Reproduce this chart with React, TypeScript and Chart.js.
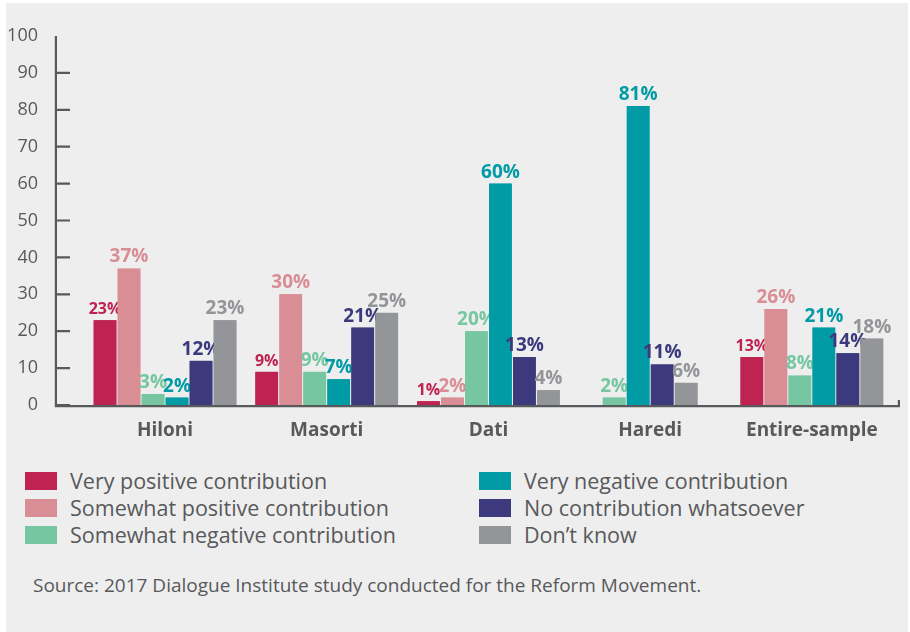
import React, { useEffect, useRef } from 'react';
import { Chart, registerables } from 'chart.js';

Chart.register(...registerables);

const categories = ['Hiloni', 'Masorti', 'Dati', 'Haredi', 'Entire-sample'];
const seriesNames = [
  'Very positive contribution',
  'Somewhat positive contribution',
  'Somewhat negative contribution',
  'Very negative contribution',
  'No contribution whatsoever',
  'Don’t know',
];
const veryPositive = [23, 9, 1, null, 13];
const somewhatPositive = [37, 30, 2, null, 26];
const somewhatNegative = [3, 9, 20, 2, 8];
const veryNegative = [2, 7, 60, 81, 21];
const noContribution = [12, 21, 13, 11, 14];
const dontKnow = [23, 25, 4, 6, 18];
const yTicks = [0, 10, 20, 30, 40, 50, 60, 70, 80, 90, 100];
const seriesColors = ['#BE2352', '#D98E96', '#76C7A1', '#009BA4', '#3C3A7C', '#939598'];
const sourceText = 'Source: 2017 Dialogue Institute study conducted for the Reform Movement.';

const seriesValues = [veryPositive, somewhatPositive, somewhatNegative, veryNegative, noContribution, dontKnow];

const TEXT = '#58595B';
const FONT = "'Open Sans', sans-serif";
const PANEL = '#EEEEEE';

const overlayPlugin = {
  id: 'overlay',
  afterDatasetsDraw(chart: any) {
    const { ctx, chartArea, scales } = chart;
    const y = scales.y;
    ctx.save();
    chart.data.datasets.forEach((ds: any, i: number) => {
      const meta = chart.getDatasetMeta(i);
      meta.data.forEach((el: any, j: number) => {
        if (ds.data[j].y == null) return;
        el.draw(ctx);
      });
      ctx.font = `bold ${i === 0 ? 16 : 19}px ${FONT}`;
      ctx.fillStyle = ds.backgroundColor;
      ctx.textAlign = 'center';
      ctx.textBaseline = 'alphabetic';
      meta.data.forEach((el: any, j: number) => {
        const v = ds.data[j].y;
        if (v == null) return;
        ctx.fillText(`${v}%`, el.x, el.y - 6);
      });
    });
    const left = chartArea.left;
    const bottom = chartArea.bottom;
    const right = chartArea.right;
    ctx.strokeStyle = TEXT;
    ctx.lineWidth = 2.2;
    ctx.beginPath();
    ctx.moveTo(left - 1.1, y.getPixelForValue(yTicks[yTicks.length - 1]));
    ctx.lineTo(left - 1.1, bottom + 2.2);
    yTicks.slice(0, -1).forEach((t) => {
      const py = y.getPixelForValue(t);
      ctx.moveTo(left, py);
      ctx.lineTo(left + 13, py);
    });
    ctx.moveTo(left - 2.2, bottom + 1.1);
    ctx.lineTo(right, bottom + 1.1);
    ctx.moveTo(right - 1.1, bottom + 2.2);
    ctx.lineTo(right - 1.1, bottom - 5);
    ctx.stroke();
    ctx.restore();
  },
};

function ChartCanvas() {
  const ref = useRef<HTMLCanvasElement | null>(null);
  useEffect(() => {
    if (!ref.current) return;
    const chart = new Chart(ref.current, {
      type: 'bar',
      data: {
        datasets: seriesNames.map((name, i) => ({
          label: name,
          data: seriesValues[i].map((v, k) => ({ x: k, y: v })),
          backgroundColor: seriesColors[i],
          borderColor: 'rgba(0,0,0,0)',
          borderWidth: { left: 1, right: 1, top: 0, bottom: 0 },
          barThickness: 24,
          skipNull: true,
        })),
      },
      options: {
        animation: false,
        responsive: false,
        devicePixelRatio: 1,
        layout: { padding: { top: 36, right: 10, left: 0, bottom: 0 } },
        plugins: { legend: { display: false }, tooltip: { enabled: false } },
        scales: {
          x: {
            type: 'linear',
            min: -0.668,
            max: 4.545,
            offset: false,
            grid: { display: false, drawTicks: false },
            border: { display: false },
            ticks: {
              stepSize: 1,
              autoSkip: false,
              maxRotation: 0,
              padding: 14,
              color: TEXT,
              font: { family: FONT, size: 19, weight: 'bold' },
              callback: (v: any) => categories[v] ?? '',
            },
            afterBuildTicks: (s: any) => {
              s.ticks = s.ticks.filter((t: any) => Number.isInteger(t.value));
            },
            afterFit: (s: any) => {
              s.height = 45;
            },
          },
          y: {
            min: 0,
            max: 100,
            grid: { display: false, drawTicks: false },
            border: { display: false },
            ticks: {
              stepSize: 10,
              padding: 19,
              color: TEXT,
              font: { family: FONT, size: 18 },
            },
            afterFit: (s: any) => {
              s.width = 57;
            },
          },
        },
      } as any,
      plugins: [overlayPlugin],
    });
    return () => chart.destroy();
  }, []);
  return (
    <canvas
      ref={ref}
      width={910}
      height={450}
      style={{ position: 'absolute', left: 0, top: 0, width: 910, height: 450 }}
    />
  );
}

export default function App() {
  const colLefts = [25, 479];
  const rowCenters = [481, 508, 535];
  return (
    <div style={{ position: 'absolute', left: 0, top: 0, width: 910, height: 632, background: '#FFFFFF', overflow: 'hidden', fontFamily: FONT }}>
      <div style={{ position: 'absolute', left: 6, top: 3, width: 902, height: 629, background: PANEL }} />
      <ChartCanvas />
      {seriesNames.map((name, i) => {
        const col = Math.floor(i / 3);
        const row = i % 3;
        return (
          <div
            key={name}
            style={{
              position: 'absolute',
              left: colLefts[col],
              top: rowCenters[row] - 15,
              height: 30,
              display: 'flex',
              alignItems: 'center',
              whiteSpace: 'nowrap',
              fontSize: 21.5,
              color: TEXT,
            }}
          >
            <span style={{ display: 'inline-block', width: 32, height: 18, background: seriesColors[i], marginRight: 13 }} />
            <span style={{ lineHeight: '30px' }}>{name}</span>
          </div>
        );
      })}
      <div style={{ position: 'absolute', left: 33, top: 576, fontSize: 19, lineHeight: '19px', color: TEXT, whiteSpace: 'nowrap' }}>
        {sourceText}
      </div>
    </div>
  );
}
